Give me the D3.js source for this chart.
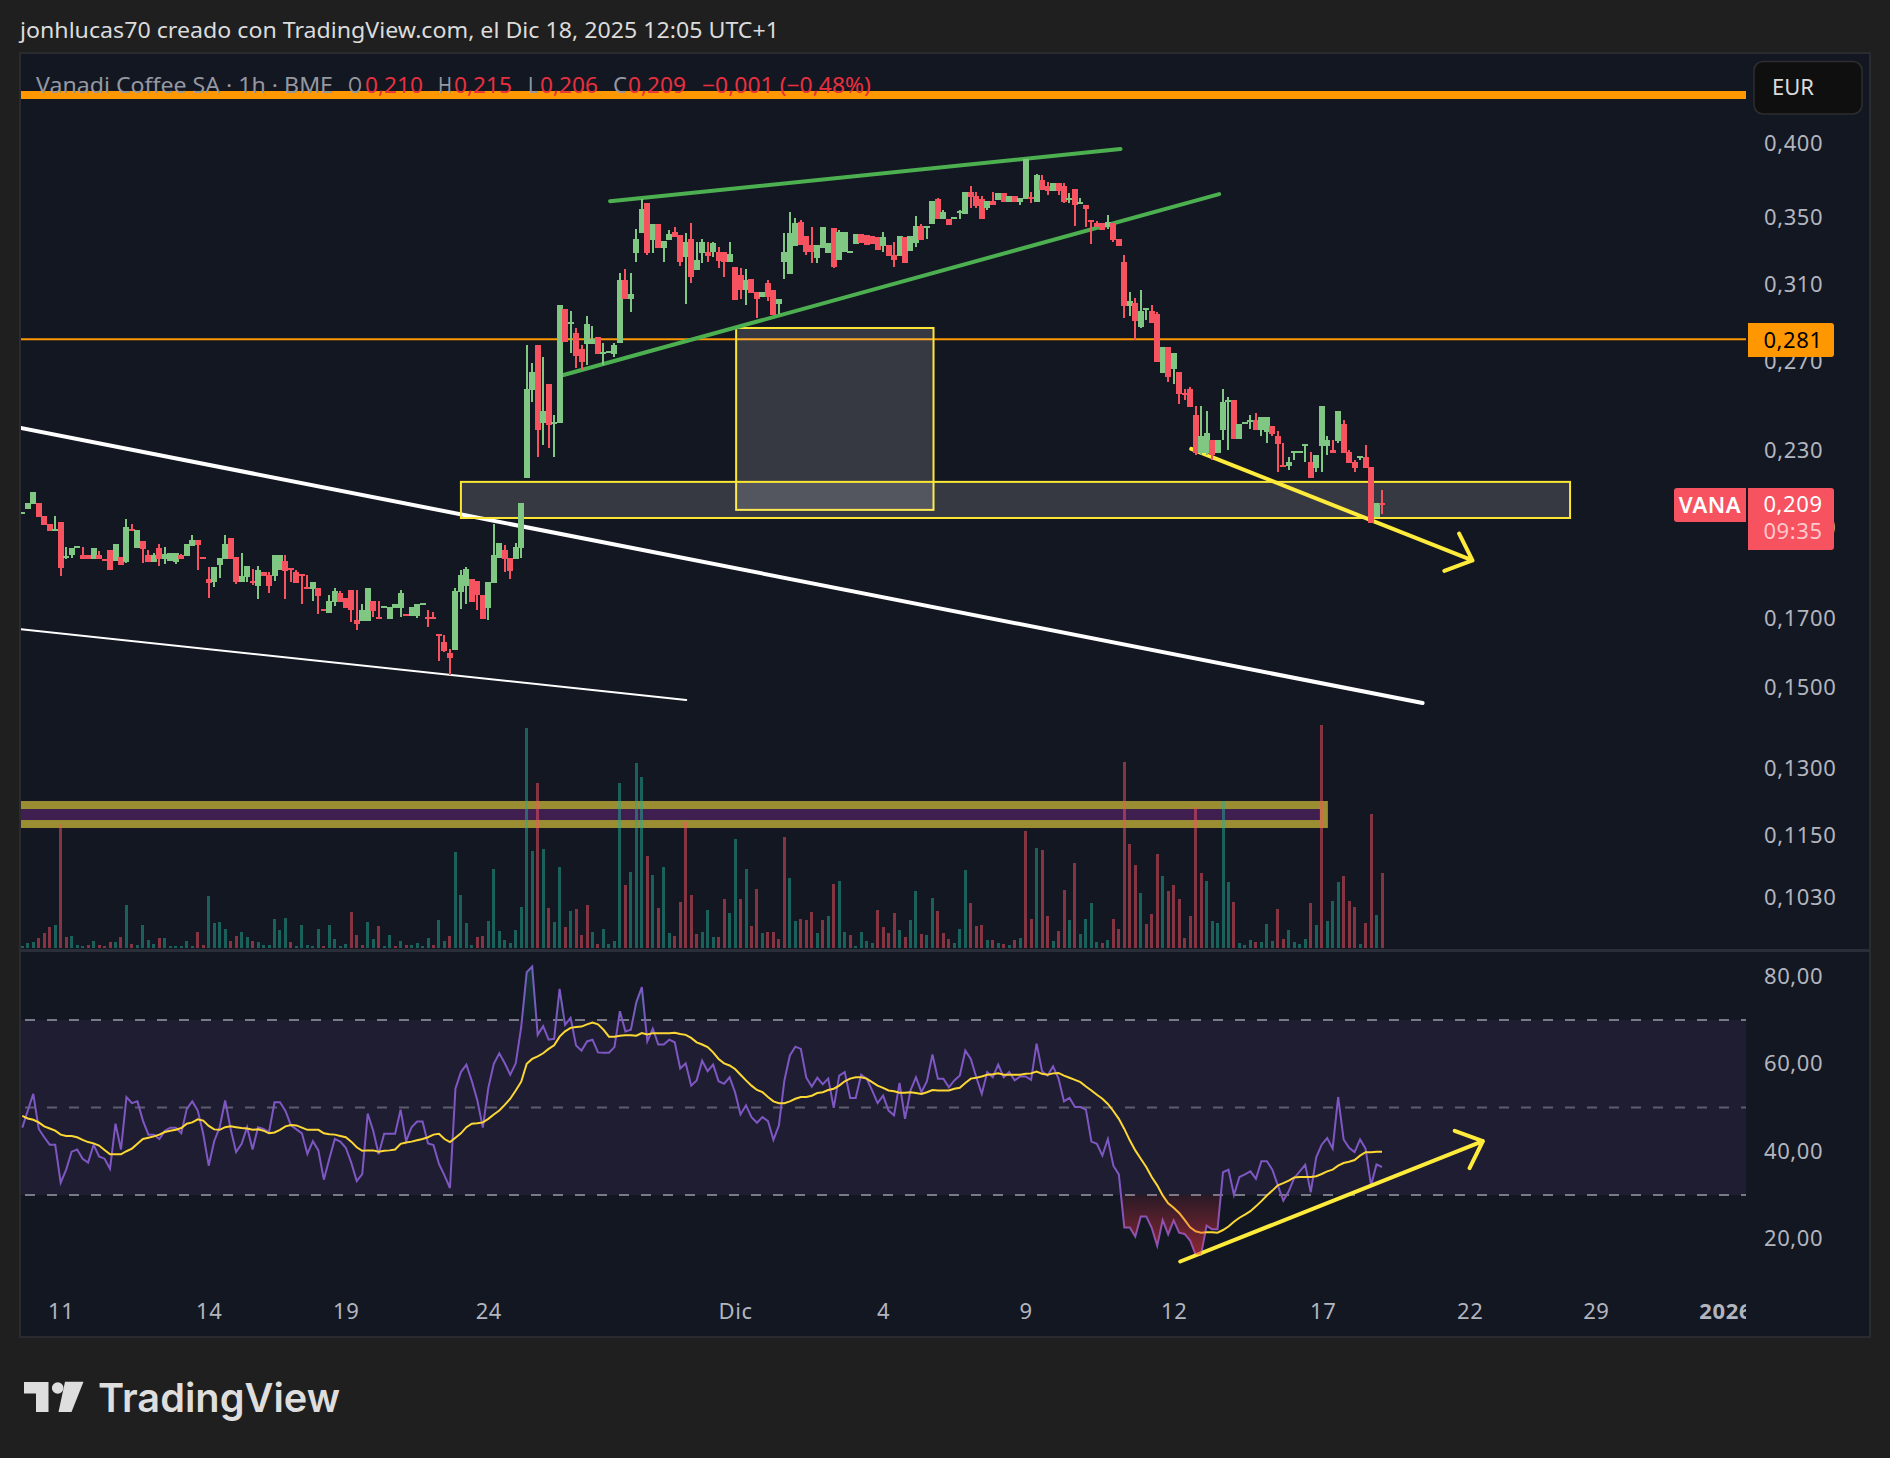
<!DOCTYPE html>
<html><head><meta charset="utf-8">
<script src="https://cdn.jsdelivr.net/npm/d3@7"></script>
<style>html,body{margin:0;padding:0;background:#1f1f1f}svg{display:block}</style>
</head><body><svg id="c" width="1890" height="1458"></svg>
<script>
// ---------- DATA ----------
const ohlc = [
[.2053,.2053,.2053,.2053],[.2068,.2090,.2068,.2090],[.2087,.2134,.2087,.2134],[.2090,.2090,.2040,.2040],[.2043,.2043,.2011,.2011],[.2015,.2015,.1989,.1989],[.1992,.2043,.1989,.1992],[.2022,.2022,.1834,.1861],[.1896,.1932,.1892,.1897],[.1905,.1929,.1895,.1929],
[.1933,.1933,.1933,.1933],[.1905,.1932,.1892,.1892],[.1905,.1905,.1892,.1892],[.1892,.1929,.1892,.1929],[.1905,.1919,.1892,.1892],[.1888,.1888,.1888,.1887],[.1922,.1922,.1854,.1854],[.1885,.1943,.1885,.1943],[.1898,.1898,.1871,.1871],[.1881,.2033,.1878,.2004],
[.1992,.2015,.1989,.1991],[.1929,.1992,.1929,.1992],[.1953,.1953,.1878,.1925],[.1905,.1922,.1881,.1881],[.1881,.1912,.1881,.1905],[.1929,.1943,.1868,.1892],[.1892,.1932,.1875,.1908],[.1885,.1912,.1885,.1912],[.1881,.1912,.1875,.1912],[.1905,.1908,.1892,.1892],
[.1902,.1943,.1902,.1943],[.1936,.1975,.1936,.1957],[.1957,.1957,.1854,.1939],[.1895,.1895,.1895,.1894],[.1824,.1864,.1763,.1811],[.1815,.1864,.1798,.1864],[.1871,.1895,.1828,.1895],[.1892,.1975,.1892,.1943],[.1964,.1964,.1892,.1892],[.1898,.1898,.1808,.1815],
[.1815,.1912,.1815,.1834],[.1831,.1868,.1815,.1868],[.1818,.1858,.1805,.1811],[.1801,.1868,.1759,.1854],[.1848,.1848,.1834,.1834],[.1838,.1848,.1779,.1801],[.1834,.1905,.1818,.1905],[.1854,.1905,.1854,.1905],[.1885,.1905,.1759,.1851],[.1858,.1858,.1815,.1857],
[.1848,.1854,.1811,.1811],[.1838,.1838,.1743,.1837],[.1795,.1838,.1795,.1794],[.1792,.1815,.1753,.1815],[.1795,.1795,.1712,.1769],[.1725,.1725,.1725,.1724],[.1715,.1772,.1715,.1753],[.1750,.1795,.1737,.1785],[.1779,.1785,.1750,.1750],[.1763,.1763,.1731,.1731],
[.1788,.1788,.1688,.1725],[.1694,.1788,.1664,.1682],[.1691,.1743,.1691,.1725],[.1691,.1795,.1691,.1795],[.1753,.1753,.1703,.1722],[.1700,.1753,.1700,.1699],[.1734,.1734,.1734,.1734],[.1697,.1734,.1697,.1734],[.1731,.1743,.1731,.1743],[.1731,.1788,.1703,.1779],
[.1709,.1709,.1709,.1708],[.1706,.1734,.1706,.1734],[.1706,.1743,.1700,.1743],[.1743,.1743,.1743,.1743],[.1700,.1725,.1673,.1699],[.1700,.1718,.1700,.1699],[.1649,.1649,.1573,.1648],[.1629,.1649,.1599,.1602],[.1594,.1608,.1534,.1582],[.1605,.1795,.1605,.1785],
[.1782,.1854,.1728,.1838],[.1801,.1864,.1743,.1858],[.1824,.1824,.1750,.1750],[.1818,.1818,.1725,.1772],[.1772,.1772,.1697,.1697],[.1731,.1815,.1694,.1815],[.1811,.2015,.1811,.1905],[.1895,.1946,.1895,.1946],[.1922,.1939,.1848,.1892],[.1895,.1895,.1824,.1851],
[.1892,.1946,.1892,.1932],[.1929,.2090,.1895,.2090],[.2189,.2781,.2189,.2570],[.2565,.2693,.2510,.2649],[.2781,.2781,.2272,.2386],[.2417,.2722,.2323,.2470],[.2593,.2593,.2310,.2408],[.2417,.2452,.2272,.2418],[.2417,.2990,.2417,.2990],[.2968,.2968,.2796,.2796],
[.2891,.2958,.2741,.2892],[.2843,.2868,.2669,.2727],[.2761,.2781,.2659,.2697],[.2786,.2931,.2683,.2889],[.2786,.2879,.2786,.2811],[.2821,.2821,.2736,.2736],[.2743,.2791,.2683,.2744],[.2746,.2746,.2746,.2746],[.2736,.2791,.2722,.2781],[.2791,.3167,.2791,.3127],
[.3127,.3190,.3022,.3022],[.3022,.3167,.2952,.3049],[.3283,.3428,.3230,.3367],[.3404,.3619,.3404,.3554],[.3590,.3590,.3271,.3283],[.3361,.3460,.3283,.3460],[.3460,.3460,.3313,.3313],[.3313,.3355,.3230,.3355],[.3361,.3422,.3361,.3398],[.3410,.3441,.3379,.3379],
[.3391,.3391,.3207,.3230],[.3260,.3404,.2995,.3349],[.3367,.3466,.3110,.3144],[.3184,.3349,.3184,.3242],[.3283,.3367,.3224,.3349],[.3289,.3349,.3230,.3266],[.3289,.3349,.3260,.3343],[.3289,.3319,.3196,.3236],[.3289,.3289,.3144,.3230],[.3230,.3349,.3230,.3277],
[.3202,.3202,.3017,.3017],[.3155,.3196,.3022,.3071],[.3071,.3190,.2990,.3127],[.3133,.3133,.3055,.3055],[.3060,.3060,.2921,.3022],[.3033,.3060,.3033,.3060],[.3110,.3127,.3011,.3033],[.3071,.3071,.2936,.2936],[.2995,.3022,.2941,.3022],[.3230,.3404,.3133,.3289],
[.3161,.3535,.3161,.3404],[.3325,.3498,.3325,.3466],[.3472,.3485,.3331,.3331],[.3385,.3385,.3271,.3289],[.3331,.3441,.3224,.3289],[.3254,.3331,.3224,.3331],[.3313,.3441,.3313,.3441],[.3283,.3343,.3283,.3343],[.3435,.3435,.3196,.3202],[.3242,.3422,.3242,.3410],
[.3289,.3410,.3289,.3410],[.3289,.3289,.3289,.3289],[.3337,.3398,.3337,.3398],[.3398,.3398,.3343,.3343],[.3391,.3391,.3331,.3331],[.3385,.3385,.3337,.3337],[.3379,.3379,.3301,.3301],[.3325,.3410,.3289,.3379],[.3331,.3331,.3266,.3266],[.3271,.3349,.3202,.3242],
[.3266,.3385,.3266,.3385],[.3379,.3379,.3224,.3224],[.3295,.3385,.3295,.3385],[.3343,.3510,.3319,.3447],[.3447,.3460,.3361,.3361],[.3440,.3441,.3367,.3441],[.3460,.3605,.3460,.3605],[.3619,.3625,.3491,.3491],[.3491,.3548,.3491,.3535],[.3491,.3491,.3453,.3453],
[.3498,.3498,.3498,.3498],[.3535,.3548,.3491,.3536],[.3522,.3665,.3522,.3665],[.3665,.3706,.3560,.3632],[.3638,.3665,.3560,.3573],[.3619,.3638,.3491,.3491],[.3560,.3605,.3548,.3605],[.3605,.3665,.3580,.3580],[.3612,.3658,.3612,.3658],[.3658,.3658,.3599,.3599],
[.3599,.3638,.3599,.3638],[.3638,.3638,.3599,.3599],[.3599,.3625,.3580,.3625],[.3619,.3890,.3619,.3890],[.3625,.3665,.3590,.3624],[.3599,.3785,.3599,.3778],[.3745,.3778,.3678,.3678],[.3706,.3732,.3645,.3672],[.3672,.3725,.3672,.3725],[.3725,.3725,.3645,.3672],
[.3706,.3725,.3590,.3599],[.3619,.3658,.3590,.3620],[.3685,.3685,.3447,.3580],[.3590,.3625,.3590,.3591],[.3580,.3580,.3441,.3554],[.3479,.3479,.3337,.3478],[.3466,.3479,.3441,.3441],[.3466,.3466,.3422,.3422],[.3441,.3516,.3428,.3472],[.3466,.3466,.3349,.3361],
[.3367,.3367,.3325,.3325],[.3230,.3271,.2921,.2984],[.2984,.3060,.2931,.3011],[.3001,.3027,.2806,.2905],[.2873,.3071,.2868,.2957],[.2968,.2969,.2910,.2969],[.2957,.2990,.2894,.2894],[.2941,.2952,.2697,.2697],[.2645,.2771,.2645,.2771],[.2771,.2771,.2602,.2625],
[.2664,.2741,.2593,.2741],[.2649,.2649,.2501,.2547],[.2547,.2570,.2519,.2546],[.2570,.2579,.2487,.2487],[.2452,.2492,.2281,.2290],[.2290,.2492,.2281,.2361],[.2290,.2470,.2281,.2373],[.2344,.2344,.2260,.2281],[.2290,.2344,.2290,.2344],[.2386,.2570,.2344,.2510],
[.2514,.2533,.2302,.2515],[.2519,.2519,.2348,.2348],[.2348,.2412,.2348,.2412],[.2417,.2417,.2417,.2417],[.2426,.2452,.2390,.2427],[.2430,.2461,.2386,.2386],[.2386,.2443,.2361,.2443],[.2377,.2443,.2331,.2443],[.2403,.2403,.2361,.2369],[.2361,.2381,.2212,.2327],
[.2236,.2331,.2236,.2235],[.2236,.2272,.2220,.2252],[.2294,.2295,.2260,.2295],[.2294,.2294,.2294,.2294],[.2323,.2324,.2252,.2324],[.2252,.2294,.2189,.2189],[.2228,.2281,.2212,.2281],[.2319,.2492,.2212,.2492],[.2319,.2361,.2281,.2344],[.2302,.2344,.2290,.2290],
[.2340,.2470,.2331,.2470],[.2412,.2430,.2290,.2290],[.2294,.2302,.2248,.2248],[.2252,.2260,.2212,.2228],[.2272,.2273,.2260,.2273],[.2272,.2323,.2228,.2228],[.2232,.2232,.2018,.2018],[.2040,.2090,.2040,.2090],[.2087,.2142,.2049,.2086]];

const volumes = [6,15,18,30,45,63,69,372,33,36,9,6,9,21,9,6,18,18,33,129,12,9,69,24,12,30,30,6,6,6,21,6,48,9,156,75,78,57,21,36,48,33,21,18,9,9,87,54,90,18,6,69,9,6,57,6,69,27,6,12,108,39,9,78,27,66,6,39,6,21,9,9,15,6,30,9,84,21,36,288,159,75,9,33,36,81,237,51,24,15,54,123,660,291,495,297,120,78,243,63,111,117,39,129,48,12,57,12,21,495,189,228,555,513,276,219,120,243,45,36,138,378,159,42,
48,114,33,33,147,105,327,147,237,66,177,45,48,48,27,333,210,81,87,84,108,45,84,96,192,201,48,39,6,48,21,15,114,63,45,105,54,33,84,171,42,39,150,111,45,27,15,57,234,135,66,69,24,24,15,12,9,24,30,351,87,300,294,96,21,51,174,84,255,42,87,135,18,15,24,87,57,558,312,249,165,72,102,282,216,171,189,147,30,96,423,225,201,81,75,441,198,138,15,9,24,18,18,72,21,117,27,54,18,12,27,135,69,669,81,141,198,216,141,123,12,75,402,99,225];
const volumeSides = "gggrrrgrrg"+"ggrgrrrgrg"+"rggggrgggg"+"ggrrggggrr"+"ggrggggggr"+"gggggrgggg"+"rrrggrggrg"+"rggggrggrg"+"gggrrggggg"+"ggggrgrggr"+"grrrgrgggg"+"rgggrgrggr"+"rrrr"+
"gggrrggrgr"+"rgrrrrggrr"+"rgrgrggrgg"+"ggrrrrgrgg"+"rggrrrgggr"+"rrgrgrgrgr"+"rgrrgrrgrg"+"gggrgrrrrr"+"grrrgrrrrr"+"rrgggggrgg"+"grgggrrggg"+"grgrgggrrr"+"grrgr";

const rsi = [45.4,49.3,53.1,45.1,43.2,41.5,41.5,32.8,35.8,39.9,40.4,38.3,37.4,41.5,38.8,38.3,36.0,46.3,40.4,52.4,51.0,51.4,47.0,43.8,43.8,42.8,44.7,45.4,45.4,44.1,49.7,51.4,49.3,44.0,36.7,42.3,45.5,51.6,45.1,39.8,41.7,45.5,40.4,45.5,45.1,44.4,51.2,51.2,49.2,45.9,45.0,44.1,39.4,42.3,40.2,33.5,38.3,42.8,42.2,40.8,37.4,33.2,34.8,48.6,44.7,39.3,44.0,44.0,44.0,49.5,42.3,45.5,46.8,46.8,41.8,41.4,37.1,34.5,31.6,54.3,58.1,59.8,56.0,51.6,45.4,54.5,60.0,62.4,60.1,57.5,60.1,68.4,80.9,82.2,66.6,68.6,65.5,65.7,77.1,68.9,70.5,64.2,63.0,65.1,65.5,62.6,62.5,62.5,63.8,72.0,67.4,67.8,74.1,77.5,65.1,68.0,64.4,64.4,65.5,64.9,58.9,60.1,55.0,56.2,
60.7,58.3,59.8,56.0,55.4,56.9,53.5,48.4,50.5,47.8,46.5,47.8,46.9,42.6,45.9,56.2,61.9,63.9,63.4,56.8,54.8,56.8,55.3,56.6,49.9,57.3,58.1,52.2,52.2,57.5,56.6,53.9,51.0,52.7,49.3,48.2,55.6,47.4,53.9,56.9,53.5,56.0,62.1,56.6,56.6,54.6,56.2,57.3,63.0,61.1,56.9,53.1,58.1,56.9,59.8,56.9,58.1,56.2,57.1,57.1,56.3,64.6,58.3,57.3,59.4,56.6,51.4,52.2,50.1,50.1,49.5,42.2,41.7,39.0,42.8,36.7,34.7,22.6,22.6,20.5,25.1,25.1,22.5,18.4,24.3,21.0,24.2,21.4,21.1,19.6,16.4,16.4,23.0,22.2,22.2,35.2,35.8,30.0,34.1,34.7,35.4,33.7,37.7,37.7,35.8,32.2,28.7,30.9,33.9,35.4,36.9,30.6,38.6,41.5,43.0,40.6,52.4,42.7,40.8,39.8,42.7,40.6,32.2,37.0,36.4];
const rsiMa = [48.1,47.5,47.2,46.6,45.7,45.2,44.7,43.8,43.5,43.5,43.2,42.6,42.1,41.8,41.3,40.3,39.3,39.3,39.3,40.0,40.6,41.7,42.8,43.1,43.4,43.8,44.4,44.7,44.9,45.3,46.3,46.6,47.3,47.0,45.8,45.0,44.9,45.5,45.7,45.5,45.3,45.2,44.9,45.0,44.7,44.1,44.3,44.9,45.7,46.0,45.9,45.4,44.9,44.9,44.9,44.1,43.9,43.8,43.5,43.2,42.2,40.9,40.1,40.2,40.2,39.9,40.1,40.2,40.4,41.7,42.0,42.2,42.5,42.8,43.2,43.8,44.0,42.8,42.1,43.1,44.1,45.5,46.3,46.4,46.6,47.4,48.4,49.3,50.6,52.0,53.9,55.9,60.0,61.1,61.7,62.4,63.4,64.2,66.2,67.4,68.2,68.4,68.5,69.0,69.4,69.0,67.8,66.2,66.2,66.4,66.5,66.5,66.4,67.0,66.7,67.0,67.0,67.0,67.0,67.1,66.8,66.6,65.9,64.9,
64.4,63.8,62.6,61.1,60.1,59.6,58.8,57.5,56.2,55.0,54.0,53.5,52.4,51.4,51.0,51.0,51.4,52.0,52.4,52.4,52.7,53.3,53.5,54.0,54.3,55.0,56.0,56.6,56.9,56.9,56.6,55.8,55.0,54.5,53.9,53.7,53.4,53.4,53.5,53.3,53.1,53.5,54.0,53.9,53.9,53.9,54.3,54.5,55.6,56.6,56.8,57.1,57.5,57.6,57.8,57.5,57.5,57.5,57.5,57.7,57.8,58.2,57.7,57.5,57.8,57.9,57.3,56.8,56.3,55.8,54.8,53.9,52.9,52.0,50.8,49.2,47.4,45.1,42.5,40.2,38.3,36.4,34.1,32.2,29.9,28.1,27.1,25.9,24.3,22.6,21.7,21.4,21.5,21.5,21.4,22.0,22.8,23.9,24.8,25.5,26.3,27.4,28.6,29.9,31.0,32.2,32.7,33.3,34.0,34.1,34.1,34.1,34.3,34.8,35.4,35.8,36.7,37.3,37.6,38.0,39.0,39.8,39.8,39.9,39.9];

const priceTicks = [.4,.35,.31,.27,.23,.2,.17,.15,.13,.115,.103];
const rsiTicks = [80,60,40,20];
const rsiBands = [70,50,30];
const timeTicks = [7,34,59,85,130,157,183,210,237.2,264,287,310.6];
const timeLabels = ["11","14","19","24","Dic","4","9","12","17","22","29","2026"];
const legendParts = [["Vanadi Coffee SA · 1h · BME","n"],["O","n"],["0,210","v"],["H","n"],["0,215","v"],["L","n"],["0,206","v"],["C","n"],["0,209","v"],["−0,001 (−0,48%)","v"]];
const title = "jonhlucas70 creado con TradingView.com, el Dic 18, 2025 12:05 UTC+1";

// drawings, as [bar index, value]
const levelThick = .4365, level281 = .281;
const whiteThick = [[-0.33,.2395],[255.4,.1458]];
const whiteThin = [[-0.4,.1666],[121.1,.1466]];
const greenTop = [[107.2,.3605],[200.3,.3960]];
const greenLow = [[98.7,.2635],[218.3,.3651]];
const zoneBig = [[130.2,.2868],[166.2,.2066]];
const zoneWide = [[80,.2173],[282.3,.2036]];
const priceArrow = [[213.2,.2306],[264.5,.1886]];
const rsiArrow = [[211.2,14.8],[266.4,42.3]];
const volumeBox = [[-2,429],[237.4,372]];

// ---------- LAYOUT ----------
const PL=20,PR=1870,PT=53,PB=1337,AX=1746,SEP=950;
const svg=d3.select("#c");
const UI='"Noto Sans",sans-serif';
const x=d3.scaleLinear().domain([0,248]).range([22.3,1382]);
const y=d3.scaleLog().domain([.4,.17,.15,.13,.115,.103]).range([143.5,618,687,768,835,897]);
const volY=d3.scaleLinear().domain([0,700]).range([948,714.7]);
const ry=d3.scaleLinear().domain([70,30]).range([1020,1195]);
const UP="#81c784",DN="#f7525f",YEL="#ffeb3b",GRN="#4caf50",ORG="#ff9800";

svg.append("rect").attr("width",1890).attr("height",1458).attr("fill","#1f1f1f");
svg.append("rect").attr("x",PL).attr("y",PT).attr("width",PR-PL).attr("height",PB-PT).attr("fill","#131722").attr("stroke","#2a2b2e").attr("stroke-width",2);
const defs=svg.append("defs");
const clip=(id,X,Y,W,H)=>defs.append("clipPath").attr("id",id).append("rect").attr("x",X).attr("y",Y).attr("width",W).attr("height",H);
clip("main",PL+1,PT+1,AX-PL-1,SEP-PT-2);
clip("low",PL+1,SEP,AX-PL-1,PB-SEP-1);
clip("under30",PL+1,ry(30),AX-PL-1,PB-ry(30));
clip("over70",PL+1,SEP,AX-PL-1,ry(70)-SEP);
clip("timeclip",PL+1,1280,AX-PL-1,50);
const grad=(id,y1,y2,c1,o1,c2,o2)=>{const g=defs.append("linearGradient").attr("id",id).attr("gradientUnits","userSpaceOnUse").attr("x1",0).attr("x2",0).attr("y1",y1).attr("y2",y2);
 g.append("stop").attr("offset",0).attr("stop-color",c1).attr("stop-opacity",o1);g.append("stop").attr("offset",1).attr("stop-color",c2).attr("stop-opacity",o2);};
grad("oversold",ry(30),ry(16),"#f23645",.1,"#f23645",.55);
grad("overbought",ry(70),ry(82),"#22ab94",.05,"#22ab94",.2);

svg.append("rect").attr("x",PL).attr("y",SEP-1).attr("width",PR-PL).attr("height",3).attr("fill","#2a2e39");

// title
svg.append("text").attr("x",20).attr("y",38).attr("fill","#dbdbdb").attr("font-family",UI).attr("font-size",21).attr("textLength",759).attr("lengthAdjust","spacingAndGlyphs").text(title);

// main pane
const m=svg.append("g").attr("clip-path","url(#main)");
m.append("line").attr("x1",PL).attr("x2",AX).attr("y1",y(levelThick)).attr("y2",y(levelThick)).attr("stroke",ORG).attr("stroke-width",8);
m.append("line").attr("x1",PL).attr("x2",AX).attr("y1",y(level281)).attr("y2",y(level281)).attr("stroke",ORG).attr("stroke-width",2);
const seg=(g,p,col,w)=>g.append("line").attr("x1",x(p[0][0])).attr("y1",y(p[0][1])).attr("x2",x(p[1][0])).attr("y2",y(p[1][1])).attr("stroke",col).attr("stroke-width",w).attr("stroke-linecap","round");
seg(m,whiteThick,"#fff",4);seg(m,whiteThin,"#fff",2);
[zoneBig,zoneWide].forEach(z=>m.append("rect").attr("x",x(z[0][0])).attr("y",y(z[0][1])).attr("width",x(z[1][0])-x(z[0][0])).attr("height",y(z[1][1])-y(z[0][1])).attr("fill","rgba(255,255,255,.15)").attr("stroke","#fde735").attr("stroke-width",2));
seg(m,greenTop,GRN,4);seg(m,greenLow,GRN,4);

// arrow helper
function arrow(g,a,b,yS){const X1=x(a[0]),Y1=yS(a[1]),X2=x(b[0]),Y2=yS(b[1]),t=Math.atan2(Y2-Y1,X2-X1),L=30,A=42*Math.PI/180;
 g.append("path").attr("d",`M${X1},${Y1}L${X2},${Y2}M${X2-L*Math.cos(t-A)},${Y2-L*Math.sin(t-A)}L${X2},${Y2}L${X2-L*Math.cos(t+A)},${Y2-L*Math.sin(t+A)}`)
  .attr("fill","none").attr("stroke",YEL).attr("stroke-width",4).attr("stroke-linecap","round").attr("stroke-linejoin","round");}
arrow(m,priceArrow[0],priceArrow[1],y);

// volume box, then volume bars
m.append("rect").attr("x",x(volumeBox[0][0])).attr("y",volY(volumeBox[0][1])).attr("width",x(volumeBox[1][0])-x(volumeBox[0][0])).attr("height",volY(volumeBox[1][1])-volY(volumeBox[0][1])).attr("fill","#3e1f50").attr("stroke","#9b8e32").attr("stroke-width",8);
m.append("g").attr("shape-rendering","crispEdges").selectAll("rect").data(volumes).join("rect")
 .attr("x",(d,i)=>x(i)-1.5).attr("width",3).attr("y",d=>volY(d)).attr("height",d=>volY(0)-volY(d))
 .attr("fill",(d,i)=>volumeSides[i]==="g"?"rgba(34,171,148,.5)":"rgba(247,82,95,.5)");

// candles
const cg=m.append("g").attr("shape-rendering","crispEdges");
const col=d=>d[3]>=d[0]?UP:DN;
ohlc.forEach((d,i)=>{
 const g=cg.append("g").attr("fill",col(d));
 g.append("rect").attr("x",x(i)-1).attr("width",2).attr("y",y(d[1])).attr("height",Math.max(1,y(d[2])-y(d[1])));
 const top=y(Math.max(d[0],d[3])),bot=y(Math.min(d[0],d[3]));
 g.append("rect").attr("x",x(i)-3).attr("width",6).attr("y",bot-top<2?(top+bot)/2-1:top).attr("height",Math.max(2,bot-top));
});

// legend
const legendX=[36,348,365,438,454,528,540,613,628,702],legendW=[297,14,58,14,58,10,58,14,58,169];
const lg=svg.append("g").attr("font-family",UI).attr("font-size",21);
legendParts.forEach((p,i)=>lg.append("text").attr("x",legendX[i]).attr("y",93).attr("fill",p[1]==="n"?"#9598a1":"#e8303f").attr("textLength",legendW[i]).attr("lengthAdjust","spacingAndGlyphs").text(p[0]));

// RSI pane
const r=svg.append("g").attr("clip-path","url(#low)");
r.append("rect").attr("x",PL).attr("width",AX-PL).attr("y",ry(70)).attr("height",ry(30)-ry(70)).attr("fill","rgba(126,87,194,.1)");
rsiBands.forEach(b=>r.append("line").attr("x1",PL+5).attr("x2",AX).attr("y1",ry(b)).attr("y2",ry(b)).attr("stroke",b===50?"rgba(120,123,134,.7)":"#787b86").attr("stroke-width",2).attr("stroke-dasharray","10 12"));
const area=(base)=>d3.area().x((d,i)=>x(i)).y0(ry(base)).y1(d=>ry(d));
svg.append("g").attr("clip-path","url(#under30)").append("path").datum(rsi).attr("d",area(30)).attr("fill","url(#oversold)");
svg.append("g").attr("clip-path","url(#over70)").append("path").datum(rsi).attr("d",area(70)).attr("fill","url(#overbought)");
const ln=d3.line().x((d,i)=>x(i)).y(d=>ry(d));
r.append("path").datum(rsi).attr("d",ln).attr("fill","none").attr("stroke","#7e57c2").attr("stroke-width",2);
r.append("path").datum(rsiMa).attr("d",ln).attr("fill","none").attr("stroke","#fdd835").attr("stroke-width",2);
arrow(r,rsiArrow[0],rsiArrow[1],ry);

// axes
const styleAxis=(g,size)=>{g.select(".domain").remove();g.selectAll("line").remove();g.selectAll("text").attr("fill","#b2b5be").attr("font-family",UI).attr("font-size",size).attr("letter-spacing",.6);};
const fmtPrice=v=>(v<=.2?v.toFixed(4):v.toFixed(3)).replace(".",",");
svg.append("g").attr("transform","translate(1764,0)").call(d3.axisRight(y).tickValues(priceTicks).tickFormat(fmtPrice).tickSize(0).tickPadding(0)).call(g=>styleAxis(g,22));
svg.append("g").attr("transform","translate(1764,0)").call(d3.axisRight(ry).tickValues(rsiTicks).tickFormat(v=>v.toFixed(2).replace(".",",")).tickSize(0).tickPadding(0)).call(g=>styleAxis(g,22));
svg.append("g").attr("clip-path","url(#timeclip)").append("g").attr("transform","translate(0,1311)").call(d3.axisBottom(x).tickValues(timeTicks).tickFormat((d,i)=>timeLabels[i]).tickSize(0).tickPadding(0))
 .call(g=>{styleAxis(g,22);g.selectAll("text").attr("dy","0.36em").attr("y",0).attr("font-weight",(d,i)=>timeLabels[i]==="2026"?700:400);});

// badges
const badge=(X,Y,W,H,f)=>svg.append("path").attr("d",`M${X},${Y}H${X+W-3}a3,3 0 0 1 3,3V${Y+H-3}a3,3 0 0 1 -3,3H${X}Z`).attr("fill",f);
const btext=(X,Y,c,t,w)=>svg.append("text").attr("x",X).attr("y",Y).attr("dy",".36em").attr("text-anchor","middle").attr("fill",c).attr("font-family",UI).attr("font-size",22).attr("letter-spacing",.6).attr("font-weight",w||400).text(t);
badge(1748,323,86,34,ORG);
btext(1793,340,"#000","0,281");
badge(1748,488,86,62,DN);
svg.append("rect").attr("x",1674).attr("y",488).attr("width",72).attr("height",34).attr("rx",3).attr("fill",DN);
svg.append("rect").attr("x",1740).attr("y",488).attr("width",6).attr("height",34).attr("fill",DN);
btext(1710,505,"#fff","VANA",600);
btext(1793,504,"#fff","0,209");
btext(1793,531,"#fcc8cc","09:35");
svg.append("rect").attr("x",1754).attr("y",61.5).attr("width",108).attr("height",52.5).attr("rx",9).attr("fill","#0f0f0f").attr("stroke","#2e2e2e").attr("stroke-width",1.5);
svg.append("text").attr("x",1772).attr("y",87.5).attr("dy",".36em").attr("fill","#dbdbdb").attr("font-family",UI).attr("font-size",22).text("EUR");

// logo
const lo=svg.append("g").attr("fill","#dedede");
lo.append("path").attr("d","M24,1382H48.5V1412H36V1393.5H24Z");
lo.append("circle").attr("cx",57.7).attr("cy",1388).attr("r",5.8);
lo.append("path").attr("d","M65,1381.7H83.5L71.5,1412H58.5Z");
lo.append("text").attr("x",98).attr("y",1412).attr("font-family","Inter,sans-serif").attr("font-weight",600).attr("font-size",40).attr("textLength",242).attr("lengthAdjust","spacingAndGlyphs").text("TradingView");
</script></body></html>
